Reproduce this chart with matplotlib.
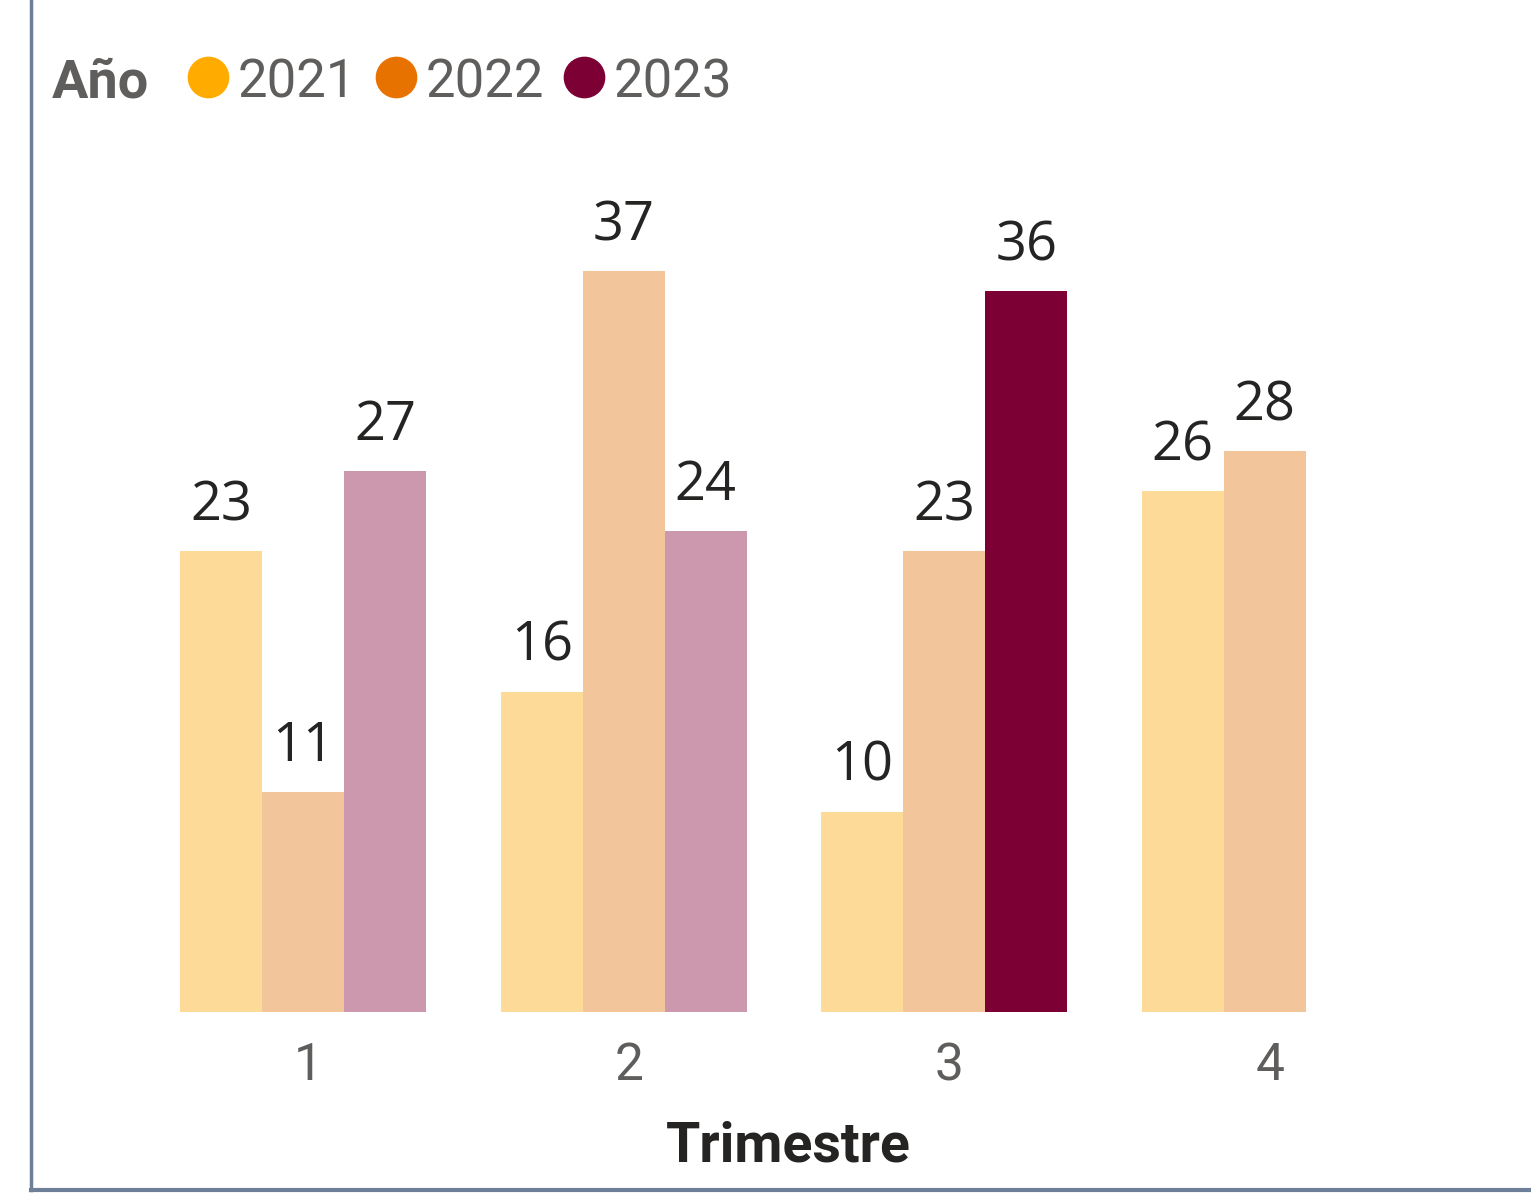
import matplotlib

matplotlib.use("Agg")
import matplotlib.pyplot as plt
import matplotlib.transforms as mtransforms
from matplotlib.lines import Line2D
import numpy as np

quarters = ["1", "2", "3", "4"]
years = ["2021", "2022", "2023"]
values_2021 = [23, 16, 10, 26]
values_2022 = [11, 37, 23, 28]
values_2023 = [27, 24, 36, np.nan]

# selected point: 2023, quarter 3 -> everything else is drawn faded
selected = ("2023", "3")

COLORS = {"2021": "#FFAB00", "2022": "#E87200", "2023": "#7C0033"}
FADED = {"2021": "#FDDA97", "2022": "#F3C59A", "2023": "#CB98AD"}
FRAME = "#6E7F9A"
GRAY = "#605E5C"
DARK = "#252423"

NARROW = ["Roboto", "DejaVu Sans"]
LABEL_FONT = ["Open Sans", "DejaVu Sans"]

W, H = 1531, 1201
fig = plt.figure(figsize=(W / 100, H / 100), dpi=100)
ax = fig.add_axes([143 / W, 189 / H, 1282 / W, 801 / H])

x = np.arange(len(quarters))
width = 82 / 320.5
series = [values_2021, values_2022, values_2023]

for k, (year, vals) in enumerate(zip(years, series)):
    pos = x + (k - 1) * width
    colors = [COLORS[year] if (year, q) == selected else FADED[year] for q in quarters]
    ax.bar(pos, vals, width=width, color=colors, linewidth=0)
    for xp, v in zip(pos, vals):
        if np.isnan(v):
            continue
        ax.annotate(f"{v:g}", (xp, v), xytext=(0, 31), textcoords="offset pixels",
                    ha="center", va="baseline", fontsize=39, color=DARK,
                    family=LABEL_FONT)

ax.set_xlim(-0.5, 3.5)
ax.set_ylim(0, 40)
ax.set_xticks(x)
ax.set_xticklabels(quarters, fontsize=37, color=GRAY, family=NARROW)
ax.tick_params(axis="x", length=0, pad=21)
nudge = mtransforms.ScaledTranslation(5 / 100, 0, fig.dpi_scale_trans)
for lbl in ax.get_xticklabels():
    lbl.set_transform(lbl.get_transform() + nudge)
ax.set_yticks([])
for side in ax.spines.values():
    side.set_visible(False)

fig.text(788 / W, 1 - 1162 / H, "Trimestre", fontsize=40, color=DARK,
         family=NARROW, fontweight="bold", ha="center", va="baseline")

# legend row at the top
fig.text(52 / W, 1 - 97 / H, "Año", fontsize=39, fontweight="bold",
         color=GRAY, family=NARROW, va="baseline")
for i, year in enumerate(years):
    cx = (208 + 188 * i) / W
    cy = 1 - 77 / H
    fig.add_artist(Line2D([cx], [cy], marker="o", markersize=29, color=COLORS[year],
                          linestyle="none", transform=fig.transFigure))
    fig.text(cx + 30 / W, 1 - 97 / H, year, fontsize=38, color=GRAY, family=NARROW,
             va="baseline")

# outer frame: left and bottom edges
fig.add_artist(Line2D([31 / W, 31 / W], [1.0, 1 - 1190 / H], color=FRAME,
                      linewidth=2.5, transform=fig.transFigure))
fig.add_artist(Line2D([31 / W, 1.0], [1 - 1190 / H, 1 - 1190 / H],
                      color=FRAME, linewidth=3, transform=fig.transFigure))

fig.savefig("out.png", dpi=100)
